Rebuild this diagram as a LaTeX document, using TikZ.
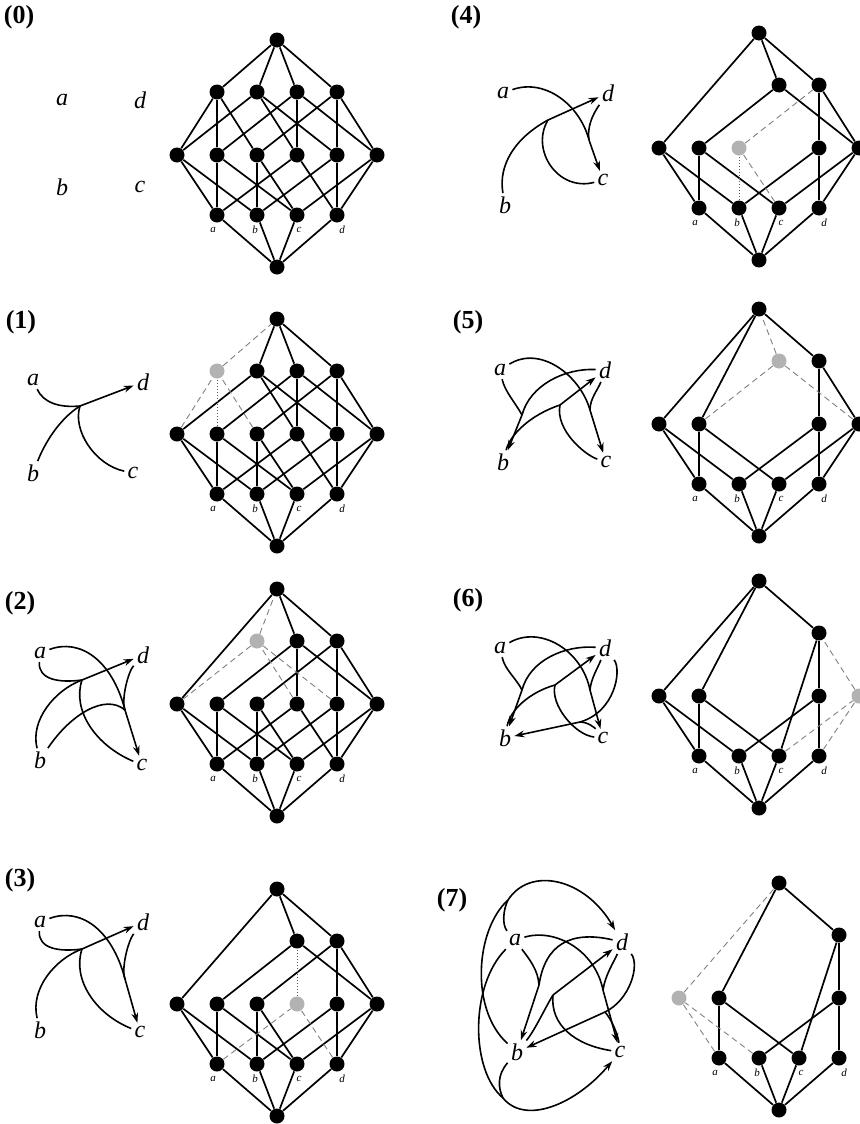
\documentclass[tikz,border=0pt]{standalone}
\usepackage{fontspec}
\setmainfont{Liberation Serif}
\usetikzlibrary{arrows.meta}

% lattice helpers: positions relative to the bottom node
\newcommand\latpos[3]{%
  \begin{scope}[shift={(#2,#3)}]
    \foreach \n/\x/\y in {o/0/0, a/-60/-52, b/-20/-52, c/20/-52, d/60/-52,
        ab/-100/-112, ac/-60/-112, bc/-20/-112, ad/20/-112, bd/60/-112, cd/100/-112,
        abc/-60/-175, abd/-20/-175, acd/20/-175, bcd/60/-175, abcd/0/-227}
      \coordinate (P#1\n) at (\x,\y);
  \end{scope}}
\newcommand\latnodes[3]{\foreach \n in {#3} \node[#2] (L#1\n) at (P#1\n) {};}
\newcommand\latedges[3]{\foreach \u/\v in {#3} \draw[#2] (L#1\u) -- (L#1\v);}
\newcommand\latlabels[1]{\foreach \n/\s in {a/-4,b/-2,c/2,d/5}
  \node[sub] (S#1\n) at ([shift={(\s,15)}]L#1\n) {\n};}

\begin{document}
\begin{tikzpicture}[x=0.5pt,y=-0.5pt,
  dot/.style={circle,fill=black,minimum size=7.5pt,inner sep=0pt},
  ghost/.style={circle,fill=gray!60,minimum size=7.5pt,inner sep=0pt},
  edge/.style={line width=0.85pt},
  gone/.style={gray,line width=0.45pt,dash pattern=on 3pt off 2pt},
  vgone/.style={gray!70!black,line width=0.5pt,densely dotted},
  arc/.style={line width=0.8pt},
  arr/.style={arc,-{Stealth[length=5pt,width=3.4pt]}},
  letter/.style={font=\itshape\fontsize{12}{12}\selectfont,inner sep=1.5pt},
  sub/.style={font=\itshape\fontsize{5.5}{6}\selectfont,inner sep=0pt},
  num/.style={font=\bfseries\fontsize{13}{13}\selectfont,inner sep=0pt}]
\useasboundingbox (0,0) rectangle (859,1124);

% panel numbers
\node[num] (n0) at (19,17) {(0)};
\node[num] (n1) at (21,322) {(1)};
\node[num] (n2) at (20,603) {(2)};
\node[num] (n3) at (20,880) {(3)};
\node[num] (n4) at (466,17) {(4)};
\node[num] (n5) at (468,322) {(5)};
\node[num] (n6) at (468,600) {(6)};
\node[num] (n7) at (452,900) {(7)};

%% (0)
\node[letter] (a0) at (62,100) {a};
\node[letter] (d0) at (140,100) {d};
\node[letter] (b0) at (62,187) {b};
\node[letter] (c0) at (140,187) {c};
\latpos{0}{277}{267}
\latnodes{0}{dot}{o,a,b,c,d,ab,ac,bc,ad,bd,cd,abc,abd,acd,bcd,abcd}
\latedges{0}{edge}{o/a,o/b,o/c,o/d,a/ab,a/ac,a/ad,b/ab,b/bc,b/bd,c/ac,c/bc,c/cd,d/ad,d/bd,d/cd,
  ab/abc,ab/abd,ac/abc,ac/acd,bc/abc,bc/bcd,ad/abd,ad/acd,bd/abd,bd/bcd,cd/acd,cd/bcd,
  abc/abcd,abd/abcd,acd/abcd,bcd/abcd}
\latlabels{0}

%% (1)
\node[letter] (a1) at (33,380) {a};
\node[letter] (d1) at (143,382) {d};
\node[letter] (b1) at (33,473) {b};
\node[letter] (c1) at (133,473) {c};
\coordinate (j1) at (80,406);
\draw[arc] (a1) .. controls (43,402) and (58,408) .. (j1);
\draw[arc] (b1) .. controls (44,445) and (58,420) .. (j1);
\draw[arc] (c1) .. controls (95,465) and (72,430) .. (j1);
\draw[arr] (j1) -- (d1);
\latpos{1}{277}{546}
\latnodes{1}{dot}{o,a,b,c,d,ab,ac,bc,ad,bd,cd,abd,acd,bcd,abcd}
\latnodes{1}{ghost}{abc}
\latedges{1}{edge}{o/a,o/b,o/c,o/d,a/ab,a/ac,a/ad,b/ab,b/bc,b/bd,c/ac,c/bc,c/cd,d/ad,d/bd,d/cd,
  ab/abd,ac/acd,bc/bcd,ad/abd,ad/acd,bd/abd,bd/bcd,cd/acd,cd/bcd,
  abd/abcd,acd/abcd,bcd/abcd}
\latedges{1}{gone}{abc/abcd,ab/abc,bc/abc}
\latedges{1}{vgone}{ac/abc}
\latlabels{1}

%% (2)
\node[letter] (a2) at (40,653) {a};
\node[letter] (d2) at (143,655) {d};
\node[letter] (b2) at (40,760) {b};
\node[letter] (c2) at (142,765) {c};
\coordinate (j2) at (82,680);
\coordinate (k2) at (125,710);
\draw[arc] (a2) .. controls (38,680) and (60,683) .. (j2);
\draw[arc] (b2) .. controls (30,720) and (55,690) .. (j2);
\draw[arc] (c2) .. controls (95,745) and (72,710) .. (j2);
\draw[arr] (j2) -- (d2);
\draw[arc] (a2) .. controls (80,638) and (112,660) .. (k2);
\draw[arc] (d2) .. controls (128,672) and (121,700) .. (k2);
\draw[arc] (b2) .. controls (70,715) and (105,693) .. (k2);
\draw[arr] (k2) -- (c2);
\latpos{2}{277}{816}
\latnodes{2}{dot}{o,a,b,c,d,ab,ac,bc,ad,bd,cd,acd,bcd,abcd}
\latnodes{2}{ghost}{abd}
\latedges{2}{edge}{o/a,o/b,o/c,o/d,a/ab,a/ac,a/ad,b/ab,b/bc,b/bd,c/ac,c/bc,c/cd,d/ad,d/bd,d/cd,
  ab/abcd,ac/acd,bc/bcd,ad/acd,bd/bcd,cd/acd,cd/bcd,acd/abcd,bcd/abcd}
\latedges{2}{gone}{abd/abcd,ab/abd,ad/abd,bd/abd}
\latlabels{2}

%% (3)
\node[letter] (a3) at (40,922) {a};
\node[letter] (d3) at (143,922) {d};
\node[letter] (b3) at (40,1030) {b};
\node[letter] (c3) at (140,1032) {c};
\coordinate (j3) at (82,949);
\coordinate (k3) at (125,979);
\draw[arc] (a3) .. controls (38,949) and (60,952) .. (j3);
\draw[arc] (b3) .. controls (30,989) and (55,959) .. (j3);
\draw[arc] (c3) .. controls (95,1014) and (72,979) .. (j3);
\draw[arr] (j3) -- (d3);
\draw[arc] (a3) .. controls (80,907) and (112,929) .. (k3);
\draw[arc] (d3) .. controls (128,941) and (121,969) .. (k3);
\draw[arr] (k3) -- (c3);
\latpos{3}{277}{1116}
\latnodes{3}{dot}{o,a,b,c,d,ab,ac,bc,bd,cd,acd,bcd,abcd}
\latnodes{3}{ghost}{ad}
\latedges{3}{edge}{o/a,o/b,o/c,o/d,a/ab,a/ac,b/ab,b/bc,b/bd,c/ac,c/bc,c/cd,d/bd,d/cd,
  ab/abcd,ac/acd,bc/bcd,bd/bcd,cd/acd,cd/bcd,acd/abcd,bcd/abcd}
\latedges{3}{gone}{a/ad,d/ad}
\latedges{3}{vgone}{ad/acd}
\latlabels{3}

%% (4)
\node[letter] (a4) at (503,93) {a};
\node[letter] (d4) at (608,93) {d};
\node[letter] (b4) at (505,205) {b};
\node[letter] (c4) at (603,180) {c};
\coordinate (j4) at (548,120);
\coordinate (k4) at (589,140);
\draw[arc] (a4) .. controls (545,78) and (580,105) .. (k4);
\draw[arc] (d4) .. controls (592,115) and (587,128) .. (k4);
\draw[arr] (k4) -- (c4);
\draw[arc] (b4) .. controls (498,165) and (515,138) .. (j4);
\draw[arc] (c4) .. controls (558,192) and (530,150) .. (j4);
\draw[arr] (j4) -- (d4);
\latpos{4}{759}{260}
\latnodes{4}{dot}{o,a,b,c,d,ab,ac,bd,cd,acd,bcd,abcd}
\latnodes{4}{ghost}{bc}
\latedges{4}{edge}{o/a,o/b,o/c,o/d,a/ab,a/ac,b/ab,b/bd,c/ac,c/cd,d/bd,d/cd,
  ab/abcd,ac/acd,bd/bcd,cd/acd,cd/bcd,acd/abcd,bcd/abcd}
\latedges{4}{gone}{c/bc,bc/bcd}
\latedges{4}{vgone}{b/bc}
\latlabels{4}

%% (5)
\node[letter] (a5) at (500,370) {a};
\node[letter] (d5) at (605,370) {d};
\node[letter] (b5) at (503,462) {b};
\node[letter] (c5) at (606,462) {c};
\coordinate (j5) at (560,405);
\coordinate (k5) at (590,410);
\coordinate (m5) at (522,415);
\draw[arc] (b5) .. controls (510,435) and (530,415) .. (j5);
\draw[arc] (c5) .. controls (585,455) and (555,430) .. (j5);
\draw[arr] (j5) -- (d5);
\draw[arc] (a5) .. controls (540,345) and (580,375) .. (k5);
\draw[arc] (d5) .. controls (598,390) and (590,398) .. (k5);
\draw[arr] (k5) -- (c5);
\draw[arc] (a5) .. controls (505,392) and (515,402) .. (m5);
\draw[arc] (d5) .. controls (565,368) and (530,385) .. (m5);
\draw[arr] (m5) -- (b5);
\latpos{5}{759}{536}
\latnodes{5}{dot}{o,a,b,c,d,ab,ac,bd,cd,bcd,abcd}
\latnodes{5}{ghost}{acd}
\latedges{5}{edge}{o/a,o/b,o/c,o/d,a/ab,a/ac,b/ab,b/bd,c/ac,c/cd,d/bd,d/cd,
  ab/abcd,ac/abcd,bd/bcd,cd/bcd,bcd/abcd}
\latedges{5}{gone}{ac/acd,cd/acd,acd/abcd}
\latlabels{5}

%% (6)
\node[letter] (a6) at (500,648) {a};
\node[letter] (d6) at (605,648) {d};
\node[letter] (b6) at (505,738) {b};
\node[letter] (c6) at (603,738) {c};
\coordinate (j6) at (555,685);
\coordinate (k6) at (590,690);
\coordinate (m6) at (522,690);
\coordinate (q6) at (580,722);
\draw[arc] (b6) .. controls (510,710) and (530,692) .. (j6);
\draw[arc] (c6) .. controls (575,735) and (550,705) .. (j6);
\draw[arr] (j6) -- (d6);
\draw[arc] (a6) .. controls (540,625) and (582,650) .. (k6);
\draw[arc] (d6) .. controls (598,668) and (591,678) .. (k6);
\draw[arr] (k6) -- (c6);
\draw[arc] (a6) .. controls (505,670) and (516,678) .. (m6);
\draw[arc] (d6) .. controls (565,645) and (530,660) .. (m6);
\draw[arr] (m6) -- (b6);
\draw[arc] (d6) .. controls (622,670) and (615,712) .. (q6);
\draw[arc] (c6) .. controls (595,728) and (588,722) .. (q6);
\draw[arr] (q6) -- (b6);
\latpos{6}{759}{808}
\latnodes{6}{dot}{o,a,b,c,d,ab,ac,bd,bcd,abcd}
\latnodes{6}{ghost}{cd}
\latedges{6}{edge}{o/a,o/b,o/c,o/d,a/ab,a/ac,b/ab,b/bd,c/ac,c/bcd,d/bd,
  ab/abcd,ac/abcd,bd/bcd,bcd/abcd}
\latedges{6}{gone}{c/cd,d/cd,cd/bcd}
\latlabels{6}

%% (7)
\node[letter] (a7) at (515,940) {a};
\node[letter] (d7) at (622,942) {d};
\node[letter] (b7) at (517,1052) {b};
\node[letter] (c7) at (620,1052) {c};
\coordinate (j7) at (553,995);
\coordinate (k7) at (603,990);
\coordinate (m7) at (539,985);
\coordinate (q7) at (605,1012);
\coordinate (t7) at (508,900);
\coordinate (u7) at (503,1098);
\draw[arc] (b7) .. controls (535,1030) and (545,1008) .. (j7);
\draw[arc] (c7) .. controls (575,1045) and (550,1025) .. (j7);
\draw[arr] (j7) -- (d7);
\draw[arc] (a7) .. controls (530,960) and (538,970) .. (m7);
\draw[arc] (d7) .. controls (570,930) and (545,945) .. (m7);
\draw[arr] (m7) -- (b7);
\draw[arc] (a7) .. controls (555,928) and (595,950) .. (k7);
\draw[arc] (d7) .. controls (615,960) and (605,975) .. (k7);
\draw[arr] (k7) -- (c7);
\draw[arc] (d7) .. controls (640,965) and (630,1000) .. (q7);
\draw[arc] (c7) .. controls (618,1035) and (612,1020) .. (q7);
\draw[arr] (q7) -- (b7);
% outer loops
\draw[arc] (a7) .. controls (502,925) and (503,910) .. (t7);
\draw[arc] (b7) .. controls (470,1010) and (475,930) .. (t7);
\draw[arr] (t7) .. controls (530,866) and (585,878) .. (d7);
\draw[arc] (b7) .. controls (497,1075) and (498,1088) .. (u7);
\draw[arc] (a7) .. controls (470,985) and (470,1070) .. (u7);
\draw[arr] (u7) .. controls (525,1125) and (575,1105) .. (c7);
\latpos{7}{779}{1110}
\latnodes{7}{dot}{o,a,b,c,d,ac,bd,bcd,abcd}
\latnodes{7}{ghost}{ab}
\latedges{7}{edge}{o/a,o/b,o/c,o/d,a/ac,b/bd,c/ac,c/bcd,d/bd,
  ac/abcd,bd/bcd,bcd/abcd}
\latedges{7}{gone}{a/ab,b/ab,ab/abcd}
\latlabels{7}
\end{tikzpicture}
\end{document}
